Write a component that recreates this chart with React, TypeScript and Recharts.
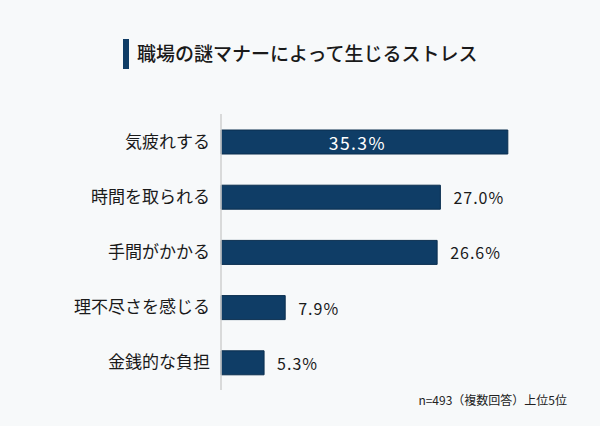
import { BarChart, Bar, XAxis, YAxis, LabelList } from "recharts"

const categories = ["気疲れする", "時間を取られる", "手間がかかる", "理不尽さを感じる", "金銭的な負担"]
const shares = [35.3, 27.0, 26.6, 7.9, 5.3]

const data = categories.map((name, i) => ({ name, value: shares[i] }))

const NAVY = "#0f3d66"
const FONT = '"Noto Sans CJK JP", "Noto Sans", sans-serif'

function ValueLabel(props: any) {
  const { x, y, width, height, value, index } = props
  const text = `${Number(value).toFixed(1)}%`
  const cy = Number(y) + Number(height) / 2
  // the top bar is wide enough to hold its label
  if (index === 0) {
    return (
      <text x={Number(x) + Number(width) / 2 - 7} y={cy} fill="#fff" fontSize={17.5} letterSpacing={1.4}
        textAnchor="middle" dominantBaseline="central" fontFamily={FONT}>
        {text}
      </text>
    )
  }
  return (
    <text x={Number(x) + Number(width) + 13} y={cy} fill="#1a1a1a" fontSize={16} letterSpacing={1}
      textAnchor="start" dominantBaseline="central" fontFamily={FONT}>
      {text}
    </text>
  )
}

export default function App() {
  return (
    <div style={{ position: "fixed", left: 0, top: 0, width: 600, height: 426, background: "#f7f9fa", fontFamily: FONT }}>
      <div style={{ position: "absolute", left: 123, top: 39, width: 6, height: 30, background: NAVY }} />
      <div style={{ position: "absolute", left: 137, top: 38, fontSize: 19, fontWeight: 500, color: "#1a1a1a", lineHeight: "30px", whiteSpace: "nowrap" }}>
        職場の謎マナーによって生じるストレス
      </div>

      <BarChart width={600} height={426} data={data} layout="vertical"
        margin={{ top: 114, right: 54, bottom: 36, left: 0 }}>
        <XAxis type="number" domain={[0, 40]} hide />
        <YAxis type="category" dataKey="name" width={221} tickLine={false} tickSize={0} tickMargin={11}
          axisLine={{ stroke: "#cfcfcf", strokeWidth: 1.5 }}
          tick={{ fill: "#1a1a1a", fontSize: 17, fontFamily: FONT }} />
        <Bar dataKey="value" fill={NAVY} stroke="#0a2e4f" strokeWidth={1} barSize={24} isAnimationActive={false}>
          <LabelList dataKey="value" content={ValueLabel} />
        </Bar>
      </BarChart>

      <div style={{ position: "absolute", right: 33, top: 391, fontSize: 12, color: "#222", whiteSpace: "nowrap" }}>
        n=493（複数回答）上位5位
      </div>
    </div>
  )
}
